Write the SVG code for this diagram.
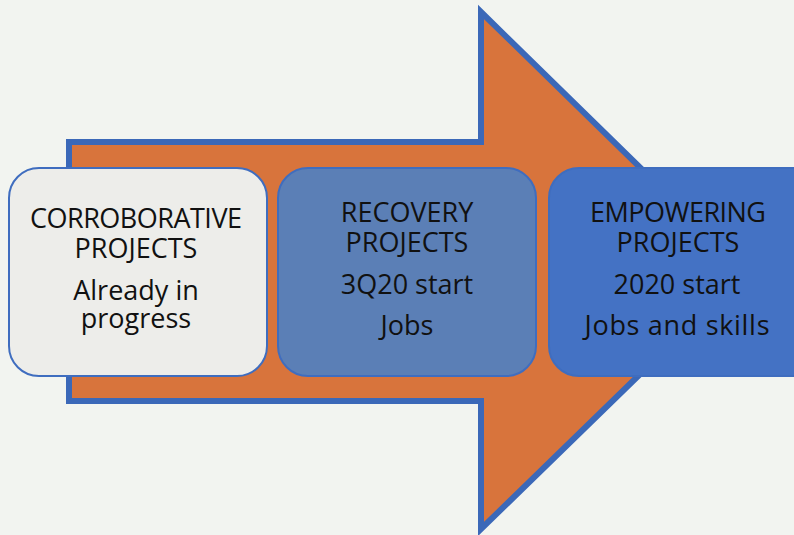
<svg xmlns="http://www.w3.org/2000/svg" width="794" height="535" viewBox="0 0 794 535">
<style>
.t{font-family:"Open Sans","Noto Sans",sans-serif;font-size:27px;font-weight:500;fill:#111;text-anchor:middle}
.box{stroke:#3f6dbf;stroke-width:2}
</style>
<rect width="794" height="535" fill="#f2f4f0"/>
<g id="arrow">
<polygon points="69,142 481,142 481,12 746,271 481,529 481,401 69,401" fill="#d8743c" stroke="#3b68b8" stroke-width="6" stroke-linejoin="miter"/>
</g>
<g id="n1">
<rect class="box" x="9" y="168" width="258" height="208" rx="30" fill="#ededea"/>
<text class="t" x="136" y="228" textLength="212">CORROBORATIVE</text>
<text class="t" x="136" y="258">PROJECTS</text>
<text class="t" x="136" y="300">Already in</text>
<text class="t" x="136" y="328">progress</text>
</g>
<g id="n2">
<rect class="box" x="278" y="168" width="258" height="208" rx="30" fill="#5b7fb6"/>
<text class="t" x="407" y="222">RECOVERY</text>
<text class="t" x="407" y="252">PROJECTS</text>
<text class="t" x="407" y="294">3Q20 start</text>
<text class="t" x="407" y="335">Jobs</text>
</g>
<g id="n3">
<rect class="box" x="549" y="168" width="280" height="208" rx="30" fill="#4472c4"/>
<text class="t" x="678" y="222" textLength="176">EMPOWERING</text>
<text class="t" x="678" y="252">PROJECTS</text>
<text class="t" x="677" y="294">2020 start</text>
<text class="t" x="677" y="335" textLength="185">Jobs and skills</text>
</g>
<g id="connectors"/>
</svg>
